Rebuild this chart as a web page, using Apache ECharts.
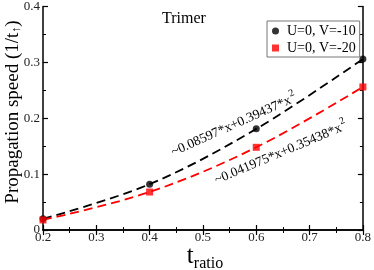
<!DOCTYPE html>
<html><head><meta charset="utf-8">
<script src="https://cdn.jsdelivr.net/npm/echarts@6/dist/echarts.min.js"></script>
<style>html,body{margin:0;padding:0;background:#fff}#c{width:374px;height:270px}</style>
</head><body><div id="c"></div>
<script>
const xValues = [0.2, 0.4, 0.6, 0.8];
const seriesV10 = [0.020, 0.082, 0.181, 0.306];
const seriesV20 = [0.018, 0.068, 0.148, 0.256];
const xTicks = ['0.2','0.3','0.4','0.5','0.6','0.7','0.8'];
const yTicks = ['0','0.1','0.2','0.3','0.4'];
const names = ['U=0, V=-10', 'U=0, V=-20'];

const F = 'Liberation Serif';
const chart = echarts.init(document.getElementById('c'));
const pair = (xs, ys) => xs.map((x, i) => [x, ys[i]]);
const axisCommon = {
  axisLine: {show: true, lineStyle: {color: '#000', width: 1.5}},
  axisTick: {show: true, inside: true, length: 5, lineStyle: {color: '#000', width: 1.2}},
  minorTick: {show: true, splitNumber: 2, length: 3, lineStyle: {color: '#000', width: 1}},
  splitLine: {show: false}
};
chart.setOption({
  animation: false,
  grid: {left: 43, right: 8, top: 5, bottom: 40},
  xAxis: [
    Object.assign({type: 'value', min: 0.2, max: 0.8, interval: 0.1, position: 'bottom',
      axisLabel: {fontFamily: F, fontSize: 13, color: '#222', margin: 1,
        formatter: v => xTicks[Math.round((v - 0.2) / 0.1)]}}, axisCommon),
    Object.assign({type: 'value', min: 0.2, max: 0.8, interval: 0.1, position: 'top',
      axisLabel: {show: false}}, axisCommon)
  ],
  yAxis: [
    Object.assign({type: 'value', min: 0, max: 0.4, interval: 0.1, position: 'left',
      axisLabel: {fontFamily: F, fontSize: 13, color: '#222', margin: 3,
        formatter: v => yTicks[Math.round(v / 0.1)]}}, axisCommon),
    Object.assign({type: 'value', min: 0, max: 0.4, interval: 0.1, position: 'right',
      axisLabel: {show: false}}, axisCommon)
  ],
  legend: {
    data: [{name: names[0], icon: 'circle'}, {name: names[1], icon: 'rect'}],
    orient: 'vertical', left: 267, top: 21, padding: [3, 4, 2, 5],
    itemWidth: 7, itemHeight: 7, itemGap: 3,
    borderColor: '#777', borderWidth: 1, backgroundColor: '#fff',
    textStyle: {fontFamily: F, fontSize: 14, color: '#000', padding: [0,0,0,3]}
  },
  series: [
    {type: 'line', name: 'fit10', data: pair(xValues, seriesV10), smooth: 0.35, showSymbol: false,
      lineStyle: {color: '#000', width: 1.8, type: [9, 5]}, z: 2},
    {type: 'line', name: 'fit20', data: pair(xValues, seriesV20), smooth: 0.35, showSymbol: false,
      lineStyle: {color: '#f00', width: 1.8, type: [9, 5]}, z: 2},
    {type: 'scatter', name: names[0], data: pair(xValues, seriesV10), symbol: 'circle', symbolSize: 7,
      itemStyle: {color: '#000'}, z: 3},
    {type: 'scatter', name: names[1], data: pair(xValues, seriesV20), symbol: 'rect', symbolSize: 7,
      itemStyle: {color: '#f00'}, z: 3}
  ],
  graphic: [
    {type: 'text', x: 162, y: 11, style: {text: 'Trimer', font: '16px "Liberation Serif"', fill: '#000'}},
    {type: 'text', x: 13, y: 112, rotation: Math.PI / 2, style: {
      text: '{a|Propagation speed (1/t}{s|↑}{a|)}', align: 'center', verticalAlign: 'middle',
      rich: {a: {fontFamily: F, fontSize: 19, fill: '#000'}, s: {fontFamily: F, fontSize: 12, fill: '#000', verticalAlign: 'bottom', padding: [8,0,0,0]}}}},
    {type: 'text', x: 205, y: 256, style: {
      text: '{t|t}{r|ratio}', align: 'center', verticalAlign: 'middle',
      rich: {t: {fontFamily: F, fontSize: 25, fill: '#000'}, r: {fontFamily: F, fontSize: 16, fill: '#000', padding: [16,0,0,0]}}}},
    {type: 'text', x: 234, y: 125, rotation: 0.42, style: {
      text: '{a|~0.08597*x+0.39437*x}{s|2}', align: 'center', verticalAlign: 'middle',
      rich: {a: {fontFamily: F, fontSize: 13.5, fill: '#000'}, s: {fontFamily: F, fontSize: 10, fill: '#000', padding: [0,0,11,1]}}}},
    {type: 'text', x: 281, y: 153, rotation: 0.40, style: {
      text: '{a|~0.041975*x+0.35438*x}{s|2}', align: 'center', verticalAlign: 'middle',
      rich: {a: {fontFamily: F, fontSize: 13.5, fill: '#000'}, s: {fontFamily: F, fontSize: 10, fill: '#000', padding: [0,0,11,1]}}}}
  ]
});
</script></body></html>
